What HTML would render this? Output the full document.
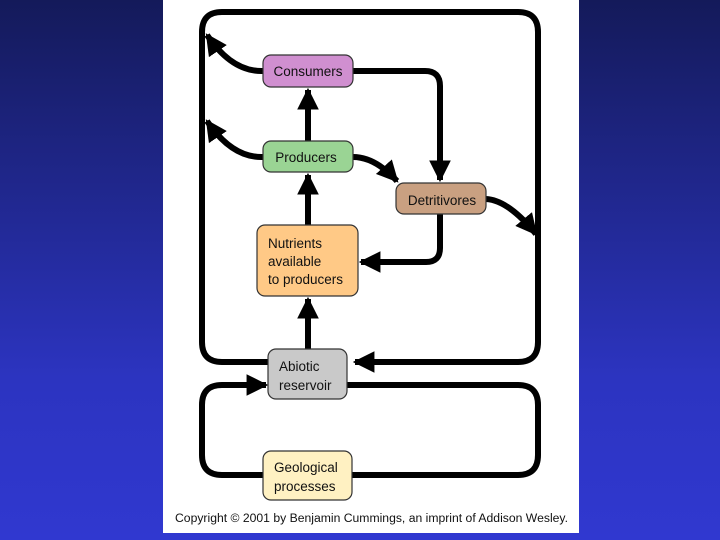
<!DOCTYPE html>
<html><head><meta charset="utf-8"><style>
html,body{margin:0;padding:0;width:720px;height:540px;overflow:hidden;background:linear-gradient(#141a5a,#2c34c0 70%,#3038d0);}
svg{position:absolute;left:0;top:0}
text{font-family:"Liberation Sans",sans-serif;font-size:13.5px;fill:#111;}
</style></head><body>
<svg width="720" height="540" viewBox="0 0 720 540">
<defs>
<marker id="a" viewBox="0 0 10 10" refX="9" refY="5" markerWidth="3.6" markerHeight="3.6" orient="auto" markerUnits="strokeWidth"><path d="M0,0 L10,5 L0,10 z" fill="#000"/></marker>
</defs>
<rect x="163" y="0" width="416" height="533" fill="#fff"/>
<g fill="none" stroke="#000" stroke-width="6" stroke-linecap="butt">
<path d="M268,362 H222 Q202,362 202,342 V32 Q202,12 222,12 H518 Q538,12 538,32 V342 Q538,362 518,362 H355" marker-end="url(#a)"/>
<path d="M347,385 H518 Q538,385 538,405 V455 Q538,475 518,475 H352"/>
<path d="M263,475 H222 Q202,475 202,455 V405 Q202,385 222,385 H266" marker-end="url(#a)"/>
<path d="M308,349 V299" marker-end="url(#a)"/>
<path d="M308,225 V175" marker-end="url(#a)"/>
<path d="M308,141 V90" marker-end="url(#a)"/>
<path d="M353,71 H425 Q440,71 440,86 V180" marker-end="url(#a)"/>
<path d="M353,157 Q375,157 397,181" marker-end="url(#a)"/>
<path d="M486,199 Q508,200 536,234" marker-end="url(#a)"/>
<path d="M440,214 V248 Q440,262 426,262 H361" marker-end="url(#a)"/>
<path d="M263,71 Q232,72 207,35" marker-end="url(#a)"/>
<path d="M263,157 Q232,158 207,121" marker-end="url(#a)"/>
</g>
<g stroke="#333" stroke-width="1.2">
<rect x="263" y="55" width="90" height="32" rx="8" fill="#d08fd0"/>
<rect x="263" y="141" width="90" height="31" rx="8" fill="#9ad494"/>
<rect x="396" y="183" width="90" height="31" rx="8" fill="#c9a081"/>
<rect x="257" y="225" width="101" height="71" rx="8" fill="#ffc986"/>
<rect x="268" y="349" width="79" height="50" rx="8" fill="#c9c9c9"/>
<rect x="263" y="451" width="89" height="49" rx="8" fill="#fff1c2"/>
</g>
<text x="308" y="76" text-anchor="middle">Consumers</text>
<text x="306" y="162" text-anchor="middle">Producers</text>
<text x="442" y="205" text-anchor="middle">Detritivores</text>
<text x="268" y="248">Nutrients</text>
<text x="268" y="266">available</text>
<text x="268" y="284">to producers</text>
<text x="279" y="371">Abiotic</text>
<text x="279" y="390">reservoir</text>
<text x="274" y="472">Geological</text>
<text x="274" y="491">processes</text>
<text x="175" y="522" textLength="393" lengthAdjust="spacingAndGlyphs" style="font-size:11.5px">Copyright © 2001 by Benjamin Cummings, an imprint of Addison Wesley.</text>
</svg>
</body></html>
